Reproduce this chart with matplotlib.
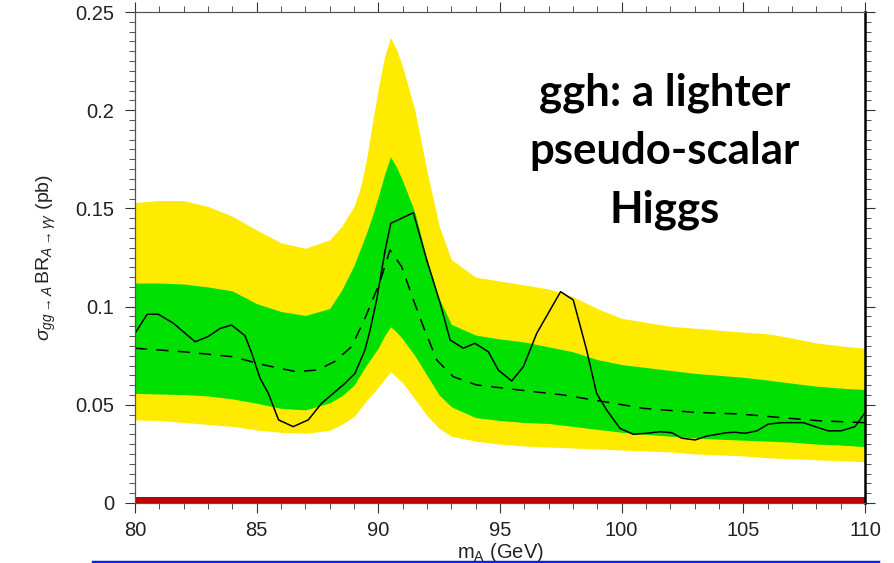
import matplotlib
matplotlib.use("Agg")
import matplotlib.pyplot as plt
from matplotlib.lines import Line2D
from matplotlib.ticker import MultipleLocator

# mass points (GeV) where the expected-limit bands are sampled
m_band = [80, 81, 82, 83, 84, 85, 86, 87, 88, 88.5, 89, 89.25, 89.5, 89.75, 90, 90.25,
          90.5, 90.75, 91, 91.5, 92, 92.5, 93, 94, 95, 96, 97, 98, 99, 100, 101, 102,
          103, 104, 105, 106, 107, 108, 109, 110]
# +/- 2 sigma (yellow) and +/- 1 sigma (green) edges, pb
band_2s_hi = [0.153, 0.154, 0.154, 0.151, 0.146, 0.139, 0.1325, 0.1297, 0.134, 0.141,
              0.151, 0.160, 0.174, 0.193, 0.211, 0.227, 0.237, 0.231, 0.222, 0.200,
              0.169, 0.141, 0.124, 0.115, 0.113, 0.111, 0.109, 0.105, 0.099, 0.094,
              0.092, 0.090, 0.089, 0.088, 0.087, 0.0862, 0.084, 0.0815, 0.080, 0.0788]
band_1s_hi = [0.112, 0.112, 0.1115, 0.110, 0.108, 0.1015, 0.0975, 0.0955, 0.099, 0.1085,
              0.121, 0.129, 0.137, 0.146, 0.156, 0.167, 0.1763, 0.171, 0.164, 0.148,
              0.124, 0.104, 0.091, 0.0855, 0.0835, 0.082, 0.0795, 0.077, 0.073, 0.0705,
              0.069, 0.0675, 0.066, 0.065, 0.064, 0.0626, 0.061, 0.0595, 0.0585, 0.0578]
band_1s_lo = [0.0558, 0.0555, 0.0552, 0.0545, 0.053, 0.0508, 0.0482, 0.0474, 0.051, 0.0545,
              0.060, 0.065, 0.070, 0.0745, 0.079, 0.085, 0.0898, 0.087, 0.0835, 0.075,
              0.065, 0.055, 0.049, 0.0435, 0.042, 0.041, 0.0405, 0.039, 0.0375, 0.036,
              0.035, 0.034, 0.0332, 0.0325, 0.032, 0.0315, 0.031, 0.030, 0.0295, 0.0287]
band_2s_lo = [0.0423, 0.042, 0.041, 0.040, 0.039, 0.0372, 0.036, 0.0355, 0.037, 0.040,
              0.044, 0.048, 0.052, 0.0555, 0.059, 0.063, 0.0669, 0.064, 0.0612, 0.053,
              0.0445, 0.038, 0.034, 0.0315, 0.030, 0.029, 0.0285, 0.028, 0.0275, 0.027,
              0.0265, 0.026, 0.025, 0.0245, 0.024, 0.023, 0.0225, 0.022, 0.0215, 0.021]

# observed limit
m_obs = [80, 80.5, 80.96, 81.58, 82.47, 83.0, 83.5, 83.97, 84.52, 84.8, 85.14, 85.48,
         85.9, 86.5, 87.12, 87.67, 88.63, 89.04, 89.45, 89.66, 89.93, 90.27, 90.51,
         91.44, 91.99, 92.54, 92.95, 93.49, 93.97, 94.52, 94.93, 95.48, 95.96, 96.51,
         97.06, 97.49, 98.01, 98.56, 98.97, 99.38, 99.93, 100.48, 101.03, 101.58,
         102.06, 102.47, 103.02, 103.5, 104.32, 104.66, 105.07, 105.55, 106.03,
         106.58, 107.47, 107.95, 108.5, 109.04, 109.59, 110]
obs_limit = [0.0864, 0.0961, 0.0961, 0.0915, 0.0821, 0.0847, 0.0889, 0.0906, 0.0852,
             0.0762, 0.0635, 0.0558, 0.0423, 0.0389, 0.0423, 0.0508, 0.0609, 0.066,
             0.0779, 0.088, 0.1034, 0.128, 0.1424, 0.1478, 0.1237, 0.1017, 0.083,
             0.0788, 0.0813, 0.077, 0.0677, 0.0621, 0.0694, 0.0864, 0.0983, 0.1076,
             0.1034, 0.0779, 0.0558, 0.0474, 0.038, 0.035, 0.0355, 0.0363, 0.0358,
             0.033, 0.0321, 0.0341, 0.0358, 0.036, 0.0355, 0.0367, 0.0402, 0.0409,
             0.0409, 0.0389, 0.0367, 0.0368, 0.0389, 0.046]

# median expected limit
m_exp = [80, 82, 84, 85.3, 86.6, 87.5, 88.2, 88.9, 89.45, 90.07, 90.48, 90.96, 91.44,
         91.85, 92.4, 93.08, 94.04, 95.82, 97.6, 99.66, 100.89, 102.95, 104.87,
         106.44, 108.08, 110]
exp_limit = [0.0788, 0.077, 0.0745, 0.0703, 0.0669, 0.0677, 0.072, 0.0796, 0.094,
             0.1127, 0.1288, 0.1203, 0.1034, 0.0898, 0.0728, 0.0643, 0.0601, 0.0575,
             0.055, 0.0508, 0.0482, 0.0462, 0.0453, 0.0436, 0.0419, 0.0409]

# thin red strip along zero
floor_m = [80, 110]
floor_level = [0.0032, 0.0032]

plt.rcParams['font.family'] = ['Liberation Sans', 'DejaVu Sans']
plt.rcParams['mathtext.fontset'] = 'custom'
plt.rcParams['mathtext.rm'] = 'Liberation Sans'
plt.rcParams['mathtext.it'] = 'Liberation Sans:italic'
plt.rcParams['mathtext.sf'] = 'Liberation Sans'

fig = plt.figure(figsize=(8.94, 5.63), dpi=100)
ax = fig.add_axes([135 / 894, 60 / 563, 730 / 894, 491 / 563])

ax.fill_between(m_band, band_2s_lo, band_2s_hi, color='#ffeb00', lw=0)
ax.fill_between(m_band, band_1s_lo, band_1s_hi, color='#00e000', lw=0)
ax.fill_between(floor_m, 0, floor_level, color='#c00000', lw=0)
ax.plot(m_exp, exp_limit, color='black', lw=1.1, ls=(0, (8, 6)))
ax.plot(m_obs, obs_limit, color='black', lw=1.1)

ax.set_xlim(80, 110)
ax.set_ylim(0, 0.25)
ax.xaxis.set_major_locator(MultipleLocator(5))
ax.xaxis.set_minor_locator(MultipleLocator(1))
ax.yaxis.set_minor_locator(MultipleLocator(0.005))
ax.set_yticks([0, 0.05, 0.1, 0.15, 0.2, 0.25])
ax.set_yticklabels(['0', '0.05', '0.1', '0.15', '0.2', '0.25'])

ax.tick_params(which='both', direction='out', top=True, right=True, colors='#333333',
               labelcolor='#222222')
ax.tick_params(which='major', length=7, width=0.8, labelsize=14.5, pad=8)
ax.tick_params(which='minor', length=4, width=0.6)
ax.tick_params(axis='x', which='major', pad=6)

for side in ['left', 'top', 'bottom']:
    ax.spines[side].set_color('#555555')
    ax.spines[side].set_linewidth(0.9)
ax.spines['right'].set_color('black')
ax.spines['right'].set_linewidth(1.8)

ax.set_xlabel(r'm$_\mathrm{A}$ (GeV)', fontsize=14.5, color='#222222', labelpad=1)
ax.set_ylabel(r'$\sigma_{gg\rightarrow A}\,\mathrm{BR}_{A\rightarrow\gamma\gamma}$ (pb)',
              fontsize=14, color='#222222', labelpad=12)

fig.text(665 / 894, 1 - 151 / 563, 'ggh: a lighter\npseudo-scalar\nHiggs',
         ha='center', va='center', multialignment='center', fontsize=31.5,
         fontweight='bold', family='Lato', linespacing=1.55)

# blue rule under the plot
fig.add_artist(Line2D([93 / 894, 878 / 894], [1.5 / 563, 1.5 / 563],
                      color='#0a1eff', lw=2.5))

fig.savefig('out.png', dpi=100)
